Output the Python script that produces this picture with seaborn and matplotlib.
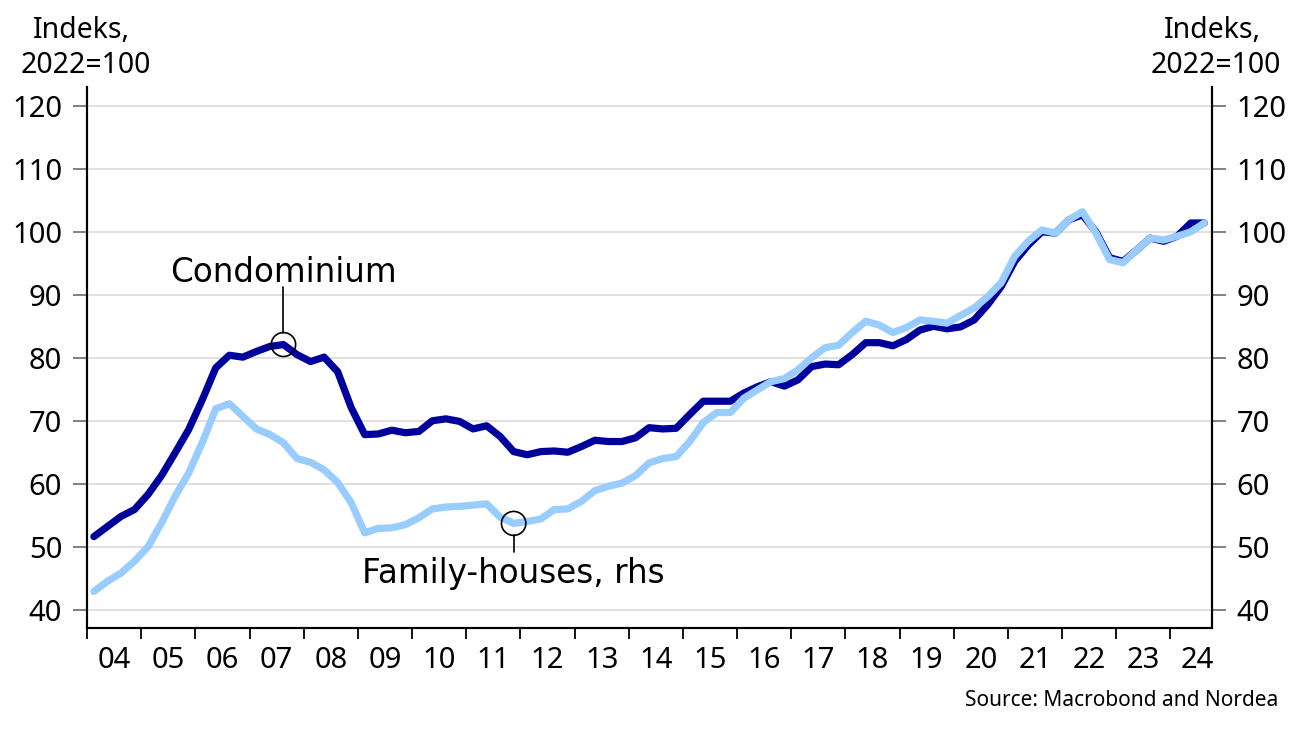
import numpy as np
import pandas as pd
import matplotlib.pyplot as plt
import seaborn as sns
from matplotlib.patches import Ellipse

# --------------
# Data (quarterly index, 2022=100), 2004Q1 - 2024Q3
# --------------
condominium = [
    51.6, 53.2, 54.8, 55.9, 58.3, 61.3, 64.9, 68.6, 73.3, 78.4, 80.4, 80.1,
    81.0, 81.8, 82.1, 80.5, 79.4, 80.1, 77.8, 72.1, 67.8, 67.9,
    68.5, 68.1, 68.3, 70.0, 70.3, 69.9, 68.7, 69.2, 67.5, 65.1, 64.6, 65.1,
    65.2, 65.0, 65.9, 66.9, 66.7, 66.7, 67.3, 68.9, 68.7, 68.8,
    71.0, 73.1, 73.1, 73.1, 74.4, 75.4, 76.2, 75.5, 76.5, 78.6, 79.0, 78.9,
    80.5, 82.4, 82.4, 81.9, 82.9, 84.4, 85.0, 84.6, 84.9,
    86.0, 88.4, 91.3, 95.3, 97.9, 100.0, 99.8, 101.9, 102.7, 100.0, 95.9,
    95.3, 97.1, 99.0, 98.5, 99.3, 101.4, 101.4,
]
family_houses = [
    42.9, 44.5, 45.8, 47.7, 50.0, 53.8, 58.0, 61.7, 66.5, 71.9, 72.7, 70.7,
    68.7, 67.8, 66.5, 64.0, 63.4, 62.2, 60.2, 57.0, 52.2, 52.9,
    53.0, 53.5, 54.6, 56.0, 56.3, 56.4, 56.6, 56.8, 54.7, 53.7, 54.0, 54.4,
    55.9, 56.0, 57.2, 58.9, 59.6, 60.1, 61.3, 63.3, 64.0, 64.3,
    66.7, 69.7, 71.3, 71.3, 73.6, 74.9, 76.2, 76.7, 78.1, 80.0, 81.6, 82.0,
    84.0, 85.8, 85.2, 84.0, 84.8, 86.0, 85.8, 85.5, 86.7,
    87.9, 89.7, 91.9, 96.1, 98.5, 100.3, 99.8, 101.9, 103.2, 99.8, 95.6,
    95.1, 97.1, 99.0, 98.7, 99.3, 100.0, 101.4,
]
years = list(range(2004, 2025))
year_labels = [f"{y % 100:02d}" for y in years]
y_ticks = [40, 50, 60, 70, 80, 90, 100, 110, 120]

# quarter mid points as decimal years
n = len(condominium)
t = 2004 + (np.arange(n) + 0.5) / 4
df = pd.DataFrame({"t": t, "Condominium": condominium, "Family-houses": family_houses})

# --------------
# Plot
# --------------
sns.set_style("white")
plt.rcParams['font.family'] = ['Noto Sans', 'DejaVu Sans']
plt.rcParams['text.color'] = 'black'
plt.rcParams['xtick.labelcolor'] = 'black'
plt.rcParams['ytick.labelcolor'] = 'black'

dark = "#00009C"
light = "#99CCFF"

fig = plt.figure(figsize=(13, 7.31), dpi=100)
ax = fig.add_axes([0.067, 0.141, 0.865, 0.74])
ax2 = ax.twinx()

ylim = (37.1, 123.0)
ax.set_ylim(ylim)
ax2.set_ylim(ylim)
ax.set_xlim(2004, 2024.76)

for v in y_ticks:
    ax.axhline(v, color="#dddddd", lw=1.3, zorder=0)

# both series on the same scale; family-houses belongs to rhs but drawn on top
sns.lineplot(data=df, x="t", y="Condominium", ax=ax, color=dark, lw=5.2, zorder=3)
sns.lineplot(data=df, x="t", y="Family-houses", ax=ax, color=light, lw=5.2, zorder=4)
ax.set_zorder(ax2.get_zorder() + 1)
ax.patch.set_visible(False)

ax.set_xlabel("")
ax.set_ylabel("")
ax2.set_ylabel("")

# x axis: tick marks at year boundaries, labels mid-year
ax.set_xticks(years)
ax.set_xticklabels([])
ax.set_xticks([y + 0.5 for y in years], minor=True)
ax.set_xticklabels(year_labels, minor=True, fontsize=21)
ax.tick_params(axis="x", which="major", direction="out", length=8, width=1.3, color="black", bottom=True)
ax.tick_params(axis="x", which="minor", length=0, pad=13, labelcolor="black")

for a in (ax, ax2):
    a.set_yticks(y_ticks)
    a.set_yticklabels([str(v) for v in y_ticks], fontsize=21)
    a.tick_params(axis="y", direction="out", length=10, width=1.3, color="#777777", pad=8, labelcolor="black")
    for s in a.spines.values():
        s.set_color("black")
        s.set_linewidth(1.5)
    a.spines["top"].set_visible(False)
ax.tick_params(axis="y", left=True, right=False)
ax2.tick_params(axis="y", right=True, left=False)

# axis titles
fig.text(0.063, 0.958, "Indeks,", ha="center", va="center", fontsize=20.5)
fig.text(0.066, 0.910, "2022=100", ha="center", va="center", fontsize=20.5)
fig.text(0.970, 0.958, "Indeks,", ha="right", va="center", fontsize=20.5)
fig.text(0.985, 0.910, "2022=100", ha="right", va="center", fontsize=20.5)

# annotations
ann_font = dict(fontsize=23.5, family="DejaVu Sans")
i_c = 14
ax.add_patch(Ellipse((t[i_c], condominium[i_c]), 0.45, 3.8, fill=False, ec="black", lw=1.2, zorder=5))
ax.plot([t[i_c], t[i_c]], [condominium[i_c] + 1.9, 91.3], color="black", lw=1.2, zorder=5)
ax.text(t[i_c], 93.6, "Condominium", ha="center", va="center", **ann_font)

i_f = 31
ax.add_patch(Ellipse((t[i_f], family_houses[i_f]), 0.45, 3.8, fill=False, ec="black", lw=1.2, zorder=5))
ax.plot([t[i_f], t[i_f]], [family_houses[i_f] - 1.9, 49.2], color="black", lw=1.2, zorder=5)
ax.text(t[i_f], 45.8, "Family-houses, rhs", ha="center", va="center", **ann_font)

fig.text(0.983, 0.042, "Source: Macrobond and Nordea", ha="right", va="center", fontsize=15)

fig.savefig("out.png", dpi=100)
plt.close(fig)
